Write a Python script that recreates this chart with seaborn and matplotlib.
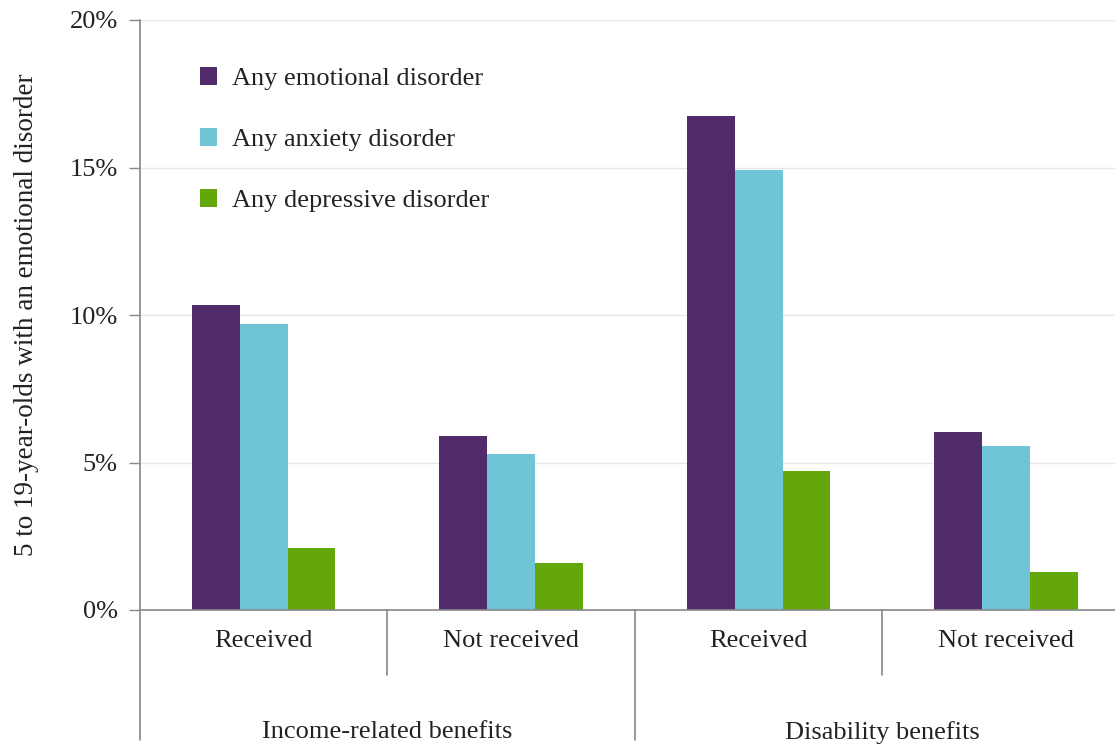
import pandas as pd
import matplotlib.pyplot as plt
import seaborn as sns
from matplotlib.transforms import blended_transform_factory

# data
groups = ["Income-related benefits", "Income-related benefits",
          "Disability benefits", "Disability benefits"]
status = ["Received", "Not received", "Received", "Not received"]
emotional = [10.35, 5.9, 16.75, 6.05]
anxiety = [9.7, 5.3, 14.9, 5.55]
depressive = [2.1, 1.6, 4.7, 1.3]
series = ["Any emotional disorder", "Any anxiety disorder", "Any depressive disorder"]
colors = ["#522b6b", "#6fc4d6", "#63a70b"]

keys = [f"{g}|{s}" for g, s in zip(groups, status)]
rows = []
for name, vals in zip(series, [emotional, anxiety, depressive]):
    for k, v in zip(keys, vals):
        rows.append({"key": k, "series": name, "value": v})
df = pd.DataFrame(rows)

sns.set_theme(style="white")
plt.rcParams["font.family"] = ["Liberation Serif", "DejaVu Serif"]
plt.rcParams["text.color"] = "#222222"
fs = 19

fig = plt.figure(figsize=(11.15, 7.45), dpi=100)
ax = fig.add_axes([140 / 1115, 1 - 610 / 745, 975 / 1115, 590 / 745])

sns.barplot(data=df, x="key", y="value", hue="series", order=keys,
            hue_order=series, palette=colors, width=0.58, saturation=1,
            linewidth=0, ax=ax)

ax.set_xlim(-0.5, 3.44)
ax.set_ylim(0, 20)
ax.set_yticks([0, 5, 10, 15, 20])
ax.set_yticklabels([f"{t}%" for t in [0, 5, 10, 15, 20]], fontsize=fs, color="#222222")
ax.yaxis.grid(True, color="#e6e6e6", linewidth=1)
ax.set_axisbelow(True)
ax.tick_params(axis="y", length=8, width=1, color="#888888", left=True, pad=8)
ax.tick_params(axis="x", length=0, labelbottom=False)
ax.set_xlabel("")
ax.set_ylabel("5 to 19-year-olds with an emotional disorder", fontsize=19.5,
              color="#222222", labelpad=22)

for side in ["top", "right"]:
    ax.spines[side].set_visible(False)
for side in ["left", "bottom"]:
    ax.spines[side].set_color("#888888")
    ax.spines[side].set_linewidth(1.2)

trans = blended_transform_factory(ax.transData, ax.transAxes)
# separators below the axis
ax.plot([-0.5, -0.5], [0, -0.22], transform=trans, color="#888888", lw=1.2, clip_on=False)
ax.plot([1.5, 1.5], [0, -0.22], transform=trans, color="#888888", lw=1.2, clip_on=False)
for x in [0.5, 2.5]:
    ax.plot([x, x], [0, -0.11], transform=trans, color="#888888", lw=1.2, clip_on=False)

for i, s in enumerate(status):
    ax.text(i, -0.053, s, transform=trans, ha="center", va="center", fontsize=fs)
for c, g in [(0.5, groups[0]), (2.5, groups[2])]:
    ax.text(c, -0.207, g, transform=trans, ha="center", va="center", fontsize=fs)

leg = ax.legend(loc="upper left", bbox_to_anchor=(0.051, 0.938), frameon=False,
                fontsize=fs, labelspacing=1.44, handlelength=0.64, handleheight=0.64,
                handletextpad=0.57, borderaxespad=0)

fig.savefig("out.png", dpi=100)
